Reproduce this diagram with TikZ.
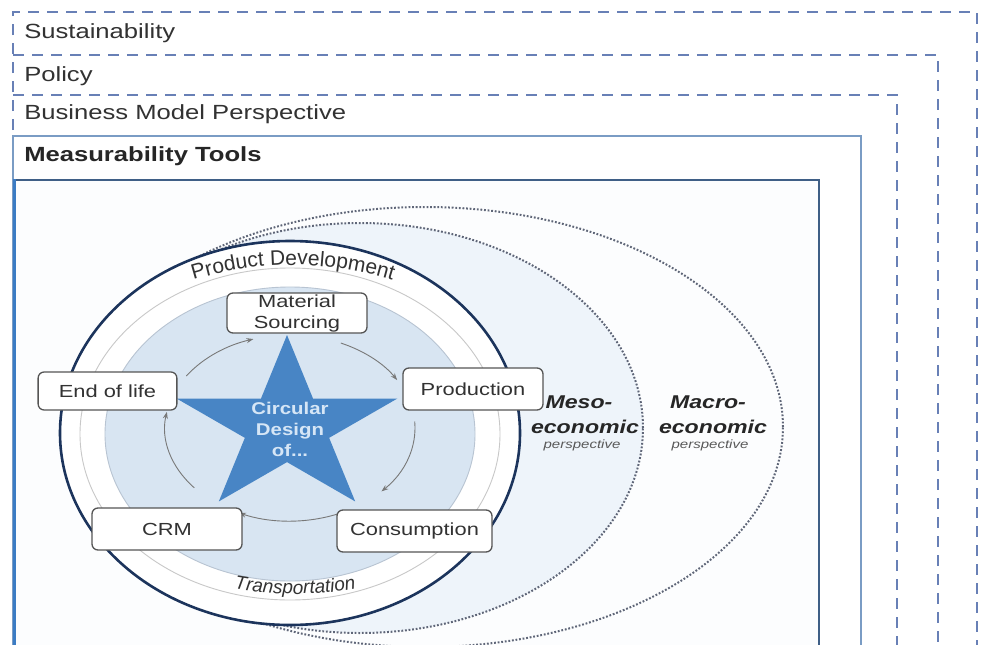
\documentclass[tikz,border=0pt]{standalone}
\usepackage{fontspec}
\setmainfont{Liberation Sans}
\usetikzlibrary{arrows.meta,decorations.text,calc}
\definecolor{dashblue}{RGB}{104,128,182}
\definecolor{mtblue}{RGB}{122,156,196}
\definecolor{boxline}{RGB}{63,95,134}
\definecolor{leftblue}{RGB}{59,124,196}
\definecolor{navy}{RGB}{28,52,92}
\definecolor{mesofill}{RGB}{238,244,250}
\definecolor{innerfill}{RGB}{252,253,254}
\definecolor{corefill}{RGB}{216,229,242}
\definecolor{coreline}{RGB}{184,196,210}
\definecolor{ringgray}{RGB}{200,200,200}
\definecolor{dotgray}{RGB}{95,102,120}
\definecolor{starblue}{RGB}{72,133,197}
\definecolor{startext}{RGB}{214,230,246}
\definecolor{stageline}{RGB}{85,85,85}
\definecolor{arrgray}{RGB}{120,120,120}
\definecolor{txt}{RGB}{50,50,50}
\begin{document}
\begin{tikzpicture}[x=1pt,y=1pt,
  layerlabel/.style={anchor=base west, inner sep=0pt, xscale=1.25, text=txt,
    font=\fontsize{20.5}{24}\selectfont},
  dashbox/.style={draw=dashblue, line width=2.4pt, dash pattern=on 11pt off 8pt},
  stagebox/.style={draw=stageline, fill=white, line width=1.3pt, rounded corners=6pt,
    inner sep=0pt, xscale=1.25, align=center, text=txt,
    font=\fontsize{17.5}{21}\selectfont},
  cycarrow/.style={draw=arrgray, line width=0.9pt, -{Stealth[length=7pt,width=5pt]}},
  dotell/.style={draw=dotgray, line width=2pt, dash pattern=on 1.8pt off 1.8pt},
  econ/.style={inner sep=0pt, xscale=1.25, text=black!85,
    font=\fontsize{18.5}{22}\selectfont\bfseries\itshape},
  persp/.style={inner sep=0pt, xscale=1.25, text=black!65,
    font=\fontsize{12}{14}\selectfont\itshape}
]
\useasboundingbox (0,0) rectangle (983,-645);
\clip (0,0) rectangle (983,-645);
\fill[white] (0,0) rectangle (983,-645);

% layered frames
\draw[dashbox] (13,-700) -- (13,-12) -- (977,-12) -- (977,-700);
\draw[dashbox] (13,-55) -- (938,-55) -- (938,-700);
\draw[dashbox] (13,-95) -- (897,-95) -- (897,-700);
\draw[draw=mtblue, line width=2.2pt] (13,-700) -- (13,-136) -- (861,-136) -- (861,-700);
\fill[innerfill] (14,-180) rectangle (819,-700);
\draw[draw=boxline, line width=2pt] (14,-180) -- (819,-180) -- (819,-700);
\draw[draw=leftblue, line width=3pt] (14,-179) -- (14,-700);

\node[layerlabel] (sus) at (24,-38) {Sustainability};
\node[layerlabel] (pol) at (24,-81) {Policy};
\node[layerlabel] (bmp) at (24,-119.5) {Business Model Perspective};
\node[layerlabel, font=\fontsize{20.5}{24}\selectfont\bfseries, text=black!85] (mt) at (24,-161.5) {Measurability Tools};

% economic perspectives
\draw[dotell, fill=innerfill] (425,-427) ellipse[x radius=358, y radius=220];
\draw[dotell, fill=mesofill] (360,-428) ellipse[x radius=283, y radius=205];

% product circle
\draw[draw=navy, fill=white, line width=2.6pt] (290,-433) ellipse[x radius=230, y radius=192];
\draw[draw=ringgray, line width=0.9pt] (290,-434) ellipse[x radius=210, y radius=166];
\draw[draw=coreline, fill=corefill, line width=0.9pt] (290,-434) ellipse[x radius=185, y radius=147];

\coordinate (pd) at (293,-605);
\path[decorate, decoration={text along path, text align=center, text color=txt,
  text={|\fontsize{21}{21}\selectfont|Product Development}}]
  ($(pd)+(110:340)$) arc[start angle=110, end angle=70, radius=340];
\coordinate (tp) at (295,-244);
\path[decorate, decoration={text along path, text align=center, text color=txt,
  text={|\fontsize{19}{19}\selectfont\itshape|Transportation}}]
  ($(tp)+(256:350)$) arc[start angle=256, end angle=284, radius=350];

% star
\begin{scope}[shift={(287,-427)}]
\fill[starblue] (90:116 and 92) -- (126:44.3 and 35.1) -- (162:116 and 92)
  -- (198:44.3 and 35.1) -- (234:116 and 92) -- (270:44.3 and 35.1)
  -- (306:116 and 92) -- (342:44.3 and 35.1) -- (18:116 and 92)
  -- (54:44.3 and 35.1) -- cycle;
\end{scope}
\node[inner sep=0pt, xscale=1.2, align=center, text=startext,
  font=\fontsize{17}{21}\selectfont\bfseries] (star) at (290,-429) {Circular\\Design\\of...};

% cycle arrows
\coordinate (cyc) at (290,-428);
\draw[cycarrow] ($(cyc)+(66:125 and 93)$) arc[start angle=66, end angle=31, x radius=125, y radius=93];
\draw[cycarrow] ($(cyc)+(4:125 and 93)$) arc[start angle=4, end angle=-43, x radius=125, y radius=93];
\draw[cycarrow] ($(cyc)+(-63:125 and 93)$) arc[start angle=-63, end angle=-114, x radius=125, y radius=93];
\draw[cycarrow] ($(cyc)+(-140:125 and 93)$) arc[start angle=-140, end angle=-190, x radius=125, y radius=93];
\draw[cycarrow] ($(cyc)+(146:125 and 93)$) arc[start angle=146, end angle=107, x radius=125, y radius=93];

% stages
\node[stagebox, minimum width=112pt, minimum height=40pt] (ms) at (297,-313) {Material\\Sourcing};
\node[stagebox, minimum width=111pt, minimum height=38pt] (eol) at (107.5,-391) {End of life};
\node[stagebox, minimum width=112pt, minimum height=42pt] (prod) at (473,-389) {Production};
\node[stagebox, minimum width=120pt, minimum height=42pt] (crm) at (167,-529) {CRM};
\node[stagebox, minimum width=124pt, minimum height=42pt] (cons) at (414.5,-531) {Consumption};

% labels
\node[econ] (meso1) at (579,-402) {Meso-};
\node[econ] (meso2) at (585,-427) {economic};
\node[persp] (meso3) at (582,-445) {perspective};
\node[econ] (macro1) at (708,-402) {Macro-};
\node[econ] (macro2) at (713,-427) {economic};
\node[persp] (macro3) at (710,-445) {perspective};
\end{tikzpicture}
\end{document}
